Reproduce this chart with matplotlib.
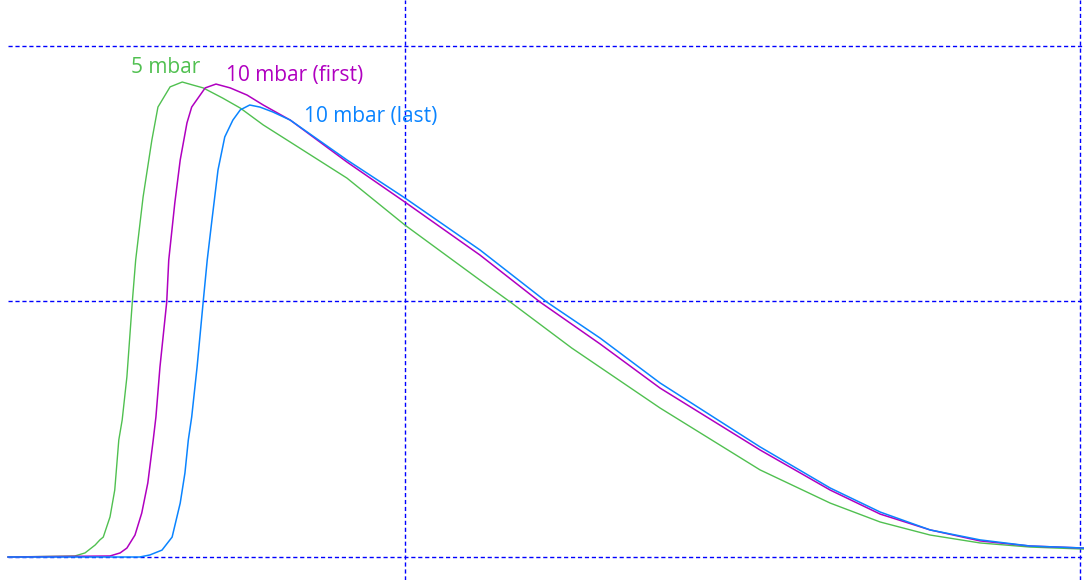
import numpy as np
import matplotlib.pyplot as plt

# time axis (arbitrary units, grid at 10 and 20), signal normalised (grid at 0, 1, 2)
t_5 = [4.12, 5.11, 5.26, 5.41, 5.48, 5.53, 5.63, 5.70, 5.76, 5.81, 5.88, 5.96, 6.01,
       6.12, 6.25, 6.34, 6.52, 6.70, 6.86, 7.01, 7.30, 7.56, 7.90, 8.30, 9.14, 10.00,
       11.11, 11.56, 12.47, 13.78, 15.26, 16.30, 17.04, 17.78, 18.52, 19.26, 20.06]
s_5 = [0.0, 0.004, 0.016, 0.047, 0.067, 0.078, 0.157, 0.262, 0.458, 0.536, 0.705, 0.998,
       1.162, 1.409, 1.632, 1.761, 1.840, 1.859, 1.847, 1.836, 1.796, 1.757, 1.691, 1.624,
       1.483, 1.299, 1.084, 0.998, 0.818, 0.583, 0.341, 0.211, 0.137, 0.086, 0.055,
       0.039, 0.031]

t_first = [4.12, 5.63, 5.78, 5.88, 6.00, 6.10, 6.19, 6.27, 6.31, 6.37, 6.47, 6.50, 6.59,
           6.67, 6.77, 6.84, 7.04, 7.20, 7.41, 7.66, 7.90, 8.30, 9.14, 10.00, 11.11,
           12.00, 12.89, 13.78, 15.26, 16.30, 17.04, 17.78, 18.52, 19.26, 20.06]
s_first = [0.0, 0.004, 0.016, 0.035, 0.086, 0.172, 0.290, 0.458, 0.548, 0.744, 0.998,
           1.162, 1.386, 1.554, 1.699, 1.761, 1.836, 1.851, 1.836, 1.808, 1.769, 1.710,
           1.546, 1.389, 1.182, 0.998, 0.834, 0.661, 0.419, 0.262, 0.168, 0.106, 0.063,
           0.043, 0.035]

t_last = [4.12, 6.07, 6.22, 6.40, 6.55, 6.67, 6.74, 6.79, 6.84, 6.92, 7.01, 7.07, 7.14,
          7.23, 7.33, 7.45, 7.56, 7.70, 7.85, 8.04, 8.30, 9.14, 10.00, 11.11, 12.10,
          12.89, 13.78, 15.26, 16.30, 17.04, 17.78, 18.52, 19.26, 20.06]
s_last = [0.0, 0.0, 0.008, 0.027, 0.078, 0.211, 0.329, 0.458, 0.548, 0.744, 0.998, 1.162,
          1.319, 1.515, 1.644, 1.710, 1.750, 1.769, 1.761, 1.742, 1.710, 1.554, 1.405,
          1.202, 0.998, 0.857, 0.681, 0.431, 0.270, 0.176, 0.106, 0.067, 0.043, 0.035]

fig = plt.figure(figsize=(10.84, 5.80), dpi=100)
ax = fig.add_axes([0, 0, 1, 1])
ax.set_xlim(4.0, 20.06)
ax.set_ylim(-0.09, 2.18)
ax.axis("off")

grid_style = dict(color="#0000ff", lw=1.0, linestyle=(0, (3, 2)))
for y in [0, 1, 2]:
    ax.axhline(y, xmin=0.0074, **grid_style)
for x in [10, 20]:
    ax.axvline(x, **grid_style)

ax.plot(t_5, s_5, color="#50c050", lw=1.0)
ax.plot(t_first, s_first, color="#b000c0", lw=1.1)
ax.plot(t_last, s_last, color="#0a84ff", lw=1.1)

font = dict(family="Open Sans", fontsize=15, va="center", ha="left")
ax.text(5.94, 1.914, "5 mbar", color="#50c050", **font)
ax.text(7.35, 1.886, "10 mbar (first)", color="#b000c0", **font)
ax.text(8.50, 1.726, "10 mbar (last)", color="#0a84ff", **font)

fig.savefig("out.png", dpi=100)
